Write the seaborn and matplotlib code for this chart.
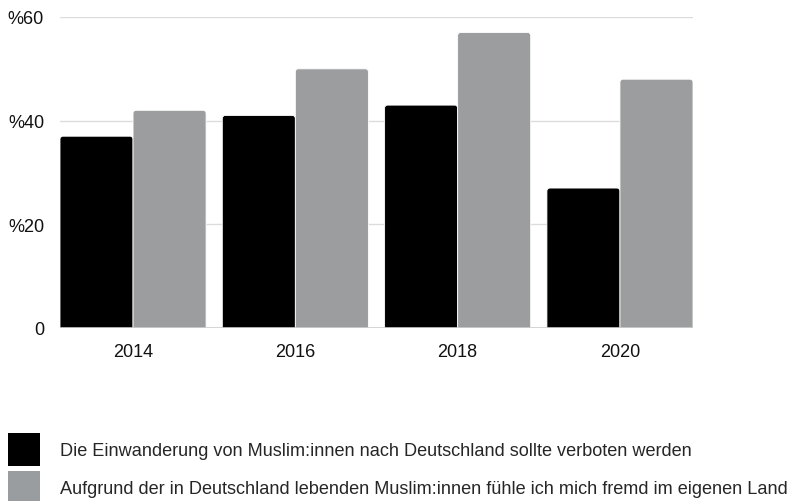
import matplotlib
matplotlib.use("Agg")
import matplotlib.pyplot as plt
from matplotlib.patches import Patch, FancyBboxPatch
import seaborn as sns
import pandas as pd

# Survey results (percent agreement) by year
years = ["2014", "2016", "2018", "2020"]
series_labels = [
    "Die Einwanderung von Muslim:innen nach Deutschland sollte verboten werden",
    "Aufgrund der in Deutschland lebenden Muslim:innen fühle ich mich fremd im eigenen Land",
]
ban_immigration = [37, 41, 43, 27]
feel_foreign = [42, 50, 57, 48]
y_ticks = [0, 20, 40, 60]
y_tick_labels = ["0", "%20", "%40", "%60"]
colors = ["#000000", "#9a9d9f"]

df = pd.DataFrame({
    "Jahr": years * 2,
    "Aussage": [series_labels[0]] * len(years) + [series_labels[1]] * len(years),
    "Wert": ban_immigration + feel_foreign,
})

sns.set_theme(style="white")
plt.rcParams["font.family"] = ["Liberation Sans", "DejaVu Sans"]

W, H = 792, 502
fig = plt.figure(figsize=(W / 100, H / 100), dpi=100)
ax = fig.add_axes([60 / W, 1 - 329 / H, (693 - 60) / W, (329 - 18) / H])

sns.barplot(
    data=df, x="Jahr", y="Wert", hue="Aussage", order=years,
    hue_order=series_labels, palette=colors, width=0.9, gap=0,
    ax=ax, legend=False,
)

ax.set_xlim(-0.45, 3.45)
ax.set_ylim(0, 60)

# Swap the plain rectangles for ones with slightly rounded tops
px_x = (693 - 60) / 3.9          # pixels per category unit
px_y = (329 - 18) / 60.0         # pixels per percent
radius_px = 3.0
for bar in list(ax.patches):
    x, w, h = bar.get_x(), bar.get_width(), bar.get_height()
    fc = bar.get_facecolor()
    bar.remove()
    rb = FancyBboxPatch(
        (x, -2), w, h + 2,
        boxstyle=f"round,pad=0,rounding_size={radius_px / px_x}",
        mutation_aspect=px_x / px_y,
        facecolor=fc, edgecolor="white", linewidth=0.6, zorder=3,
    )
    ax.add_patch(rb)

ax.set_yticks(y_ticks)
ax.set_yticklabels(y_tick_labels)
ax.yaxis.grid(True, color="#dcdcdc", linewidth=1.0, zorder=0)
ax.set_axisbelow(True)
ax.axhline(0, color="#cfcfcf", linewidth=1.2, zorder=4)
for s in ax.spines.values():
    s.set_visible(False)
ax.set_xlabel("")
ax.set_ylabel("")
ax.tick_params(axis="y", length=0, pad=11.5, labelsize=13, labelcolor="#111111")
ax.tick_params(axis="x", length=0, pad=10.5, labelsize=13, labelcolor="#111111")

# Legend with large square swatches
fs = 13.1
fs_px = fs * 100 / 72
sw_w, sw_h = 32, 33                       # swatch size in pixels
hh = (sw_h / fs_px - 0.245) / 0.65        # legend shrinks the handle box by its descent
handles = [Patch(facecolor=c, edgecolor="none") for c in colors]
fig.legend(
    handles, series_labels, loc="upper left",
    bbox_to_anchor=(8 / W, 1 - 434 / H),
    frameon=False, handlelength=sw_w / fs_px, handleheight=hh,
    handletextpad=20 / fs_px, labelspacing=5 / fs_px,
    borderpad=0, borderaxespad=0,
    prop={"family": ["Liberation Sans", "DejaVu Sans"], "size": fs},
)

fig.savefig("out.png", dpi=100)
